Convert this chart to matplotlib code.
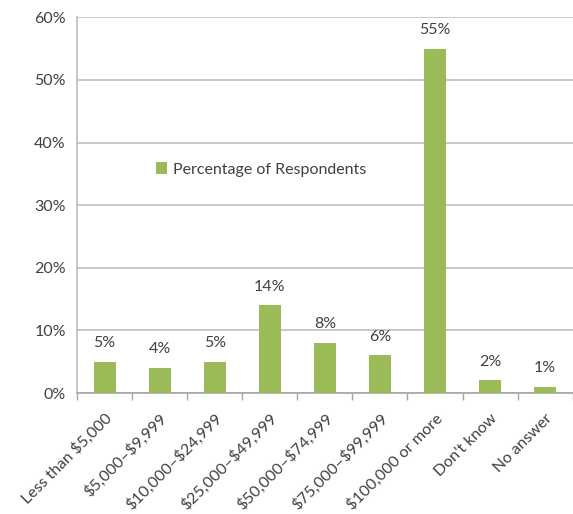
import matplotlib.pyplot as plt
import numpy as np

# income brackets and share of respondents (%)
categories = ['Less than \\$5,000', '\\$5,000\u2013\\$9,999', '\\$10,000\u2013\\$24,999',
              '\\$25,000\u2013\\$49,999', '\\$50,000\u2013\\$74,999', '\\$75,000\u2013\\$99,999',
              '\\$100,000 or more', "Don't know", 'No answer']
values = [5, 4, 5, 14, 8, 6, 55, 2, 1]
yticks = [0, 10, 20, 30, 40, 50, 60]

plt.rcParams['font.family'] = ['Lato', 'DejaVu Sans']
txt = '#404040'
green = '#9BBB59'
fs = 11.5

fig = plt.figure(figsize=(5.73, 5.14), dpi=100)
ax = fig.add_axes([0.1344, 0.2354, 0.865, 0.731])

x = np.arange(len(categories))
bars = ax.bar(x, values, width=0.4, color=green, label='Percentage of Respondents', zorder=3)

for xi, v in zip(x, values):
    ax.text(xi, v + 1.85, '%d%%' % v, ha='center', va='bottom', fontsize=fs, color=txt)

ax.set_xlim(-0.5, len(categories) - 0.5)
ax.set_ylim(0, 60)
ax.set_yticks(yticks)
ax.set_yticklabels(['%d%%' % t for t in yticks], fontsize=fs, color=txt)
ax.yaxis.grid(True, color='#BFBFBF', linewidth=1.2, zorder=0)
ax.tick_params(axis='y', length=0, pad=8)

# category labels, ticks between categories
ax.set_xticks(x)
ax.set_xticklabels(categories, rotation=45, ha='right', rotation_mode='anchor',
                   fontsize=fs, color=txt)
ax.set_xticks(np.arange(len(categories) + 1) - 0.5, minor=True)
ax.tick_params(axis='x', which='major', length=0, pad=13)
ax.tick_params(axis='x', which='minor', length=5, color='#A6A6A6', width=1)

for s in ['top', 'right']:
    ax.spines[s].set_visible(False)
ax.spines['left'].set_color('#BFBFBF')
ax.spines['bottom'].set_color('#A6A6A6')
ax.spines['left'].set_linewidth(1.2)
ax.spines['bottom'].set_linewidth(1.2)

ax.legend(loc='center left', bbox_to_anchor=(0.13, 0.595), frameon=False,
          fontsize=fs, handlelength=0.7, handleheight=0.7, handletextpad=0.4,
          labelcolor=txt)

plt.savefig('out.png', dpi=100)
